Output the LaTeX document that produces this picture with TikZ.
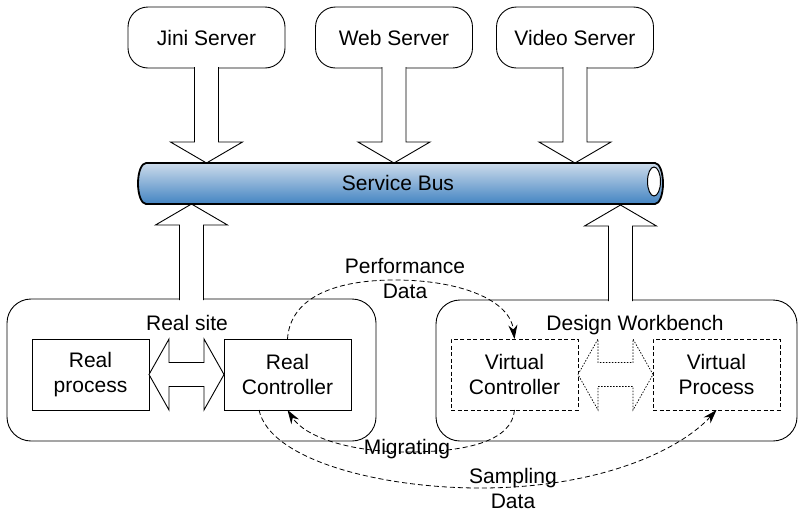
\documentclass[tikz,border=0pt]{standalone}
\usepackage{fontspec}
\setmainfont{Liberation Sans}
\usetikzlibrary{arrows.meta,calc}
\definecolor{busTop}{HTML}{CCDBEB}
\definecolor{busBot}{HTML}{4384C2}
\begin{document}
\begin{tikzpicture}[x=1pt,y=-1pt,
  font=\fontsize{21}{25}\selectfont,
  every node/.style={inner sep=0pt, outer sep=0pt},
  srv/.style={draw, line width=0.9pt, rounded corners=20pt, minimum width=157pt, minimum height=61pt, align=center},
  site/.style={draw, line width=0.9pt, rounded corners=24pt},
  procbox/.style={draw, line width=0.9pt, minimum height=71pt, align=center},
  vbox/.style={procbox, dash pattern=on 4pt off 2.5pt},
  blk/.style={draw, fill=white, line width=0.9pt},
  dotblk/.style={blk, line width=0.7pt, dash pattern=on 1.5pt off 1.5pt},
  flow/.style={line width=0.8pt, dash pattern=on 5pt off 3pt, -{Stealth[length=14pt,width=9pt]}},
  lbl/.style={align=center}
]
\useasboundingbox (0,0) rectangle (798,512);

% servers
\node[srv] (jini)  at (206.5,37.5) {Jini Server};
\node[srv] (web)   at (394,37.5)   {Web Server};
\node[srv] (video) at (575,37.5)   {Video Server};

% containers
\node[site, minimum width=369pt, minimum height=142pt] (rs) at (191.5,370) {};
\node[site, minimum width=361pt, minimum height=141pt] (dw) at (616.5,370.5) {};
\node (rslbl) at (187,323) {Real site};
\node (dwlbl) at (635,325) {Design Workbench};

% inner boxes
\node[procbox, minimum width=117pt] (rp) at (90.5,374.5)  {Real\\process};
\node[procbox, minimum width=127pt] (rc) at (287.5,374.5) {Real\\Controller};
\node[vbox, minimum width=127pt]    (vc) at (514.5,374.5) {Virtual\\Controller};
\node[vbox, minimum width=127pt]    (vp) at (716.5,374.5) {Virtual\\Process};

% down block arrows
\path[blk] ($(jini.south)+(-12,-1)$) -- ++(0,75) -- ++(-24,0) -- ++(36,21) -- ++(36,-21) -- ++(-24,0) -- ++(0,-75);
\path[blk] ($(web.south)+(-12,-1)$) -- ++(0,75) -- ++(-24,0) -- ++(36,21) -- ++(36,-21) -- ++(-24,0) -- ++(0,-75);
\path[blk] ($(video.south)+(-12,-1)$) -- ++(0,75) -- ++(-24,0) -- ++(36,21) -- ++(36,-21) -- ++(-24,0) -- ++(0,-75);

% up block arrows
\path[blk] ($(rs.north)+(-12,1)$) -- ++(0,-75) -- ++(-24,0) -- ++(36,-21) -- ++(36,21) -- ++(-24,0) -- ++(0,75);
\path[blk] ($(dw.north)+(-8,1)$) -- ++(0,-75) -- ++(-24,0) -- ++(36,-21) -- ++(36,21) -- ++(-24,0) -- ++(0,75);

% service bus
\shade[top color=busTop, bottom color=busBot]
  (146,163) -- (655,163) arc[start angle=-90, end angle=90, x radius=8, y radius=20.5]
  -- (146,204) arc[start angle=90, end angle=270, x radius=8, y radius=20.5] -- cycle;
\draw[line width=1.8pt]
  (146,163) -- (655,163) arc[start angle=-90, end angle=90, x radius=8, y radius=20.5]
  -- (146,204) arc[start angle=90, end angle=270, x radius=8, y radius=20.5] -- cycle;
\filldraw[fill=white, line width=1pt] (654,181.5) ellipse[x radius=6.5, y radius=14.5];
\node (bus) at (398,182.5) {Service Bus};

% horizontal double arrows
\path[blk] (rp.east) -- ++(20,-35.5) -- ++(0,23.5) -- ++(35,0) -- ++(0,-23.5) -- (rc.west)
  -- ++(-20,35.5) -- ++(0,-23.5) -- ++(-35,0) -- ++(0,23.5) -- cycle;
\path[dotblk] (vc.east) -- ++(20,-35.5) -- ++(0,23.5) -- ++(35,0) -- ++(0,-23.5) -- (vp.west)
  -- ++(-20,35.5) -- ++(0,-23.5) -- ++(-35,0) -- ++(0,23.5) -- cycle;

% dashed flows
\coordinate (sstart) at ($(rc.south)+(-28.5,0)$);
\draw[flow] (rc.north) .. controls (290,300) and (330,280) .. (395,280) .. controls (460,280) and (510,300) .. (vc.north);
\draw[flow] (vc.south) .. controls (512,440) and (470,452) .. (407,452) .. controls (350,452) and (305,437) .. (rc.south);
\draw[flow] (sstart) .. controls (270,460) and (380,488) .. (480,488) .. controls (600,488) and (680,450) .. (vp.south);

\node[lbl] (perf) at (405,278) {Performance\\Data};
\node (mig) at (407,449) {Migrating};
\node[lbl] (samp) at (513,488) {Sampling\\Data};
\end{tikzpicture}
\end{document}
